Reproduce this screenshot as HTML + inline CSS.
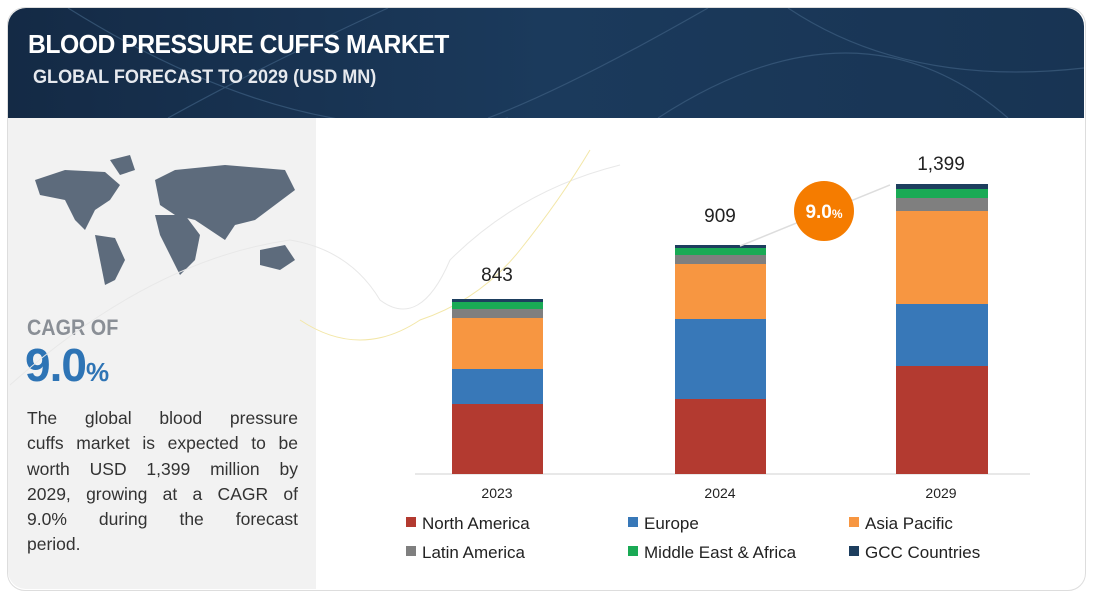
<!DOCTYPE html>
<html><head><style>
body{margin:0;width:1093px;height:597px;background:#fff;font-family:"Liberation Sans",sans-serif;position:relative;overflow:hidden}
.abs{position:absolute}
.ln{text-align:justify;text-align-last:justify;height:25.3px}
</style></head><body>
<div class="abs" style="left:7px;top:7px;width:1077px;height:582px;border:1px solid #ddd;border-radius:18px;background:#fff"></div>
<div class="abs" style="left:8px;top:8px;width:1076px;height:110px;border-radius:18px 18px 0 0;background:linear-gradient(90deg,#142a45,#1b3a5c 50%,#183453);overflow:hidden">
<svg width="1076" height="110" style="position:absolute;left:0;top:0"><g fill="none" stroke="#3e5f80" stroke-width="1.2" opacity="0.7"><path d="M60 0 Q300 150 500 110"/><path d="M380 0 Q250 60 160 110"/><path d="M700 0 Q560 80 480 110"/><path d="M650 110 Q850 -20 1000 110"/><path d="M780 0 Q900 80 1076 60"/></g></svg>
<div class="abs" style="left:20px;top:21px;color:#fff;font-weight:bold;font-size:26px;letter-spacing:-0.5px;transform:scaleX(0.95);transform-origin:left">BLOOD PRESSURE CUFFS MARKET</div>
<div class="abs" style="left:25px;top:59px;color:#e6e9ee;font-weight:bold;font-size:19px;transform:scaleX(0.95);transform-origin:left">GLOBAL FORECAST TO 2029 (USD MN)</div>
</div>
<div class="abs" style="left:8px;top:118px;width:308px;height:471px;background:#f2f2f2;border-radius:0 0 0 18px"></div>
<svg class="abs" style="left:25px;top:150px" width="280" height="140"><g fill="#5d6b7c"><path d="M10 30 L40 20 L80 22 L95 35 L85 50 L70 60 L60 80 L50 70 L40 50 L15 45Z"/><path d="M70 85 L90 88 L100 110 L90 130 L80 135 L75 110Z"/><path d="M85 10 L105 5 L110 20 L95 25Z"/><path d="M130 30 L150 20 L200 15 L260 20 L270 40 L250 55 L230 70 L210 75 L200 90 L185 80 L170 70 L150 65 L135 55Z"/><path d="M130 65 L160 65 L175 85 L170 110 L155 125 L145 105 L135 85Z"/><path d="M235 100 L260 95 L270 110 L255 120 L235 115Z"/></g></svg>
<div class="abs" style="left:27px;top:315px;color:#8a8f96;font-weight:bold;font-size:22px;transform:scaleX(0.9);transform-origin:left">CAGR OF</div>
<div class="abs" style="left:25px;top:338px;color:#2e74b5;font-weight:bold;font-size:46px;letter-spacing:-1px">9.0<span style="font-size:26px">%</span></div>
<div class="abs" style="left:27px;top:406px;width:271px;color:#333;font-size:17.5px;line-height:25.3px">
<div class="ln">The global blood pressure</div>
<div class="ln">cuffs market is expected to be</div>
<div class="ln">worth USD 1,399 million by</div>
<div class="ln">2029, growing at a CAGR of</div>
<div class="ln">9.0% during the forecast</div>
<div>period.</div>
</div>
<svg class="abs" style="left:0;top:0" width="1093" height="597">
<g fill="none" stroke-width="1"><path d="M10 385 Q150 260 290 240 Q350 250 380 300 Q420 330 450 260 Q520 190 620 165" stroke="#e8e8e8"/><path d="M300 320 Q360 360 420 320 Q480 300 520 250 Q560 200 590 150" stroke="#f3e7a8"/></g>
<line x1="415" y1="474" x2="1030" y2="474" stroke="#d0d0d0"/>
<g>
<rect x="452" y="404" width="91" height="70" fill="#b33a30"/><rect x="452" y="369" width="91" height="35" fill="#3878b8"/><rect x="452" y="318" width="91" height="51" fill="#f79641"/><rect x="452" y="309" width="91" height="9" fill="#7f7f7f"/><rect x="452" y="302" width="91" height="7" fill="#1aaa55"/><rect x="452" y="299" width="91" height="3" fill="#1d3e5e"/>
<rect x="675" y="399" width="91" height="75" fill="#b33a30"/><rect x="675" y="319" width="91" height="80" fill="#3878b8"/><rect x="675" y="264" width="91" height="55" fill="#f79641"/><rect x="675" y="255" width="91" height="9" fill="#7f7f7f"/><rect x="675" y="248" width="91" height="7" fill="#1aaa55"/><rect x="675" y="245" width="91" height="3" fill="#1d3e5e"/>
<rect x="896" y="366" width="92" height="108" fill="#b33a30"/><rect x="896" y="304" width="92" height="62" fill="#3878b8"/><rect x="896" y="211" width="92" height="93" fill="#f79641"/><rect x="896" y="198" width="92" height="13" fill="#7f7f7f"/><rect x="896" y="189" width="92" height="9" fill="#1aaa55"/><rect x="896" y="184" width="92" height="5" fill="#1d3e5e"/>
</g>
<line x1="740" y1="246" x2="890" y2="185" stroke="#ddd" stroke-width="1.5"/>
<circle cx="824" cy="211" r="30" fill="#f57c00"/>
<text x="824" y="218" fill="#fff" font-size="19" font-weight="bold" text-anchor="middle" font-family="Liberation Sans">9.0<tspan font-size="12">%</tspan></text>
<g font-family="Liberation Sans" font-size="19" fill="#222" text-anchor="middle"><text x="497" y="281">843</text><text x="720" y="222">909</text><text x="941" y="170">1,399</text></g>
<g font-family="Liberation Sans" font-size="14" fill="#222" text-anchor="middle"><text x="497" y="498">2023</text><text x="720" y="498">2024</text><text x="941" y="498">2029</text></g>
<g font-family="Liberation Sans" font-size="17" fill="#222">
<rect x="406" y="517" width="10" height="10" fill="#b33a30"/><text x="422" y="529">North America</text>
<rect x="628" y="517" width="10" height="10" fill="#3878b8"/><text x="644" y="529">Europe</text>
<rect x="849" y="517" width="10" height="10" fill="#f79641"/><text x="865" y="529">Asia Pacific</text>
<rect x="406" y="546" width="10" height="10" fill="#7f7f7f"/><text x="422" y="558">Latin America</text>
<rect x="628" y="546" width="10" height="10" fill="#1aaa55"/><text x="644" y="558">Middle East &amp; Africa</text>
<rect x="849" y="546" width="10" height="10" fill="#1d3e5e"/><text x="865" y="558">GCC Countries</text>
</g>
</svg>
</body></html>
